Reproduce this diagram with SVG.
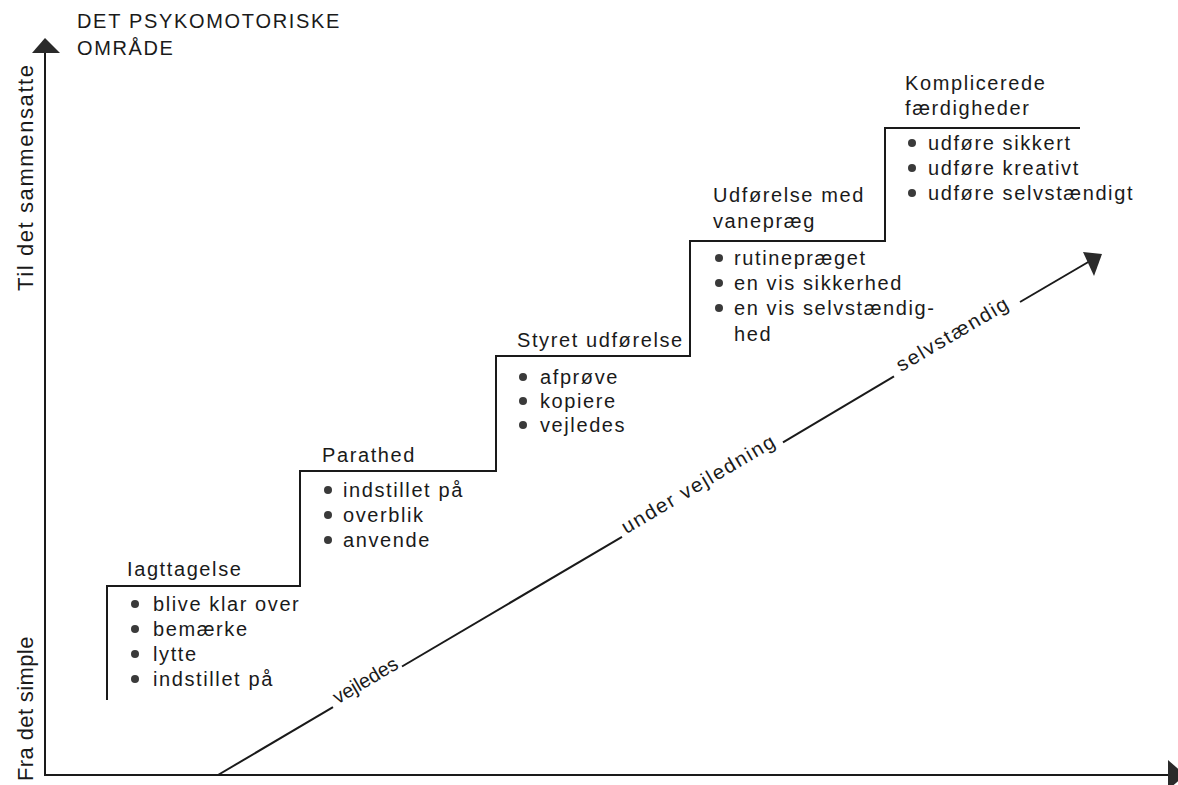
<svg xmlns="http://www.w3.org/2000/svg" width="1178" height="785" viewBox="0 0 1178 785">
<style>
text{font-family:"Liberation Sans",Arial,sans-serif;font-size:20px;fill:#1a1a1a;letter-spacing:1.6px}
text.axl{font-size:22px;letter-spacing:1.6px}
text.dl{letter-spacing:0}
.ax{stroke:#1a1a1a;stroke-width:2;fill:none}
.st{stroke:#1a1a1a;stroke-width:2;fill:none}
.dg{stroke:#1a1a1a;stroke-width:2;fill:none}
.dot{fill:#3a3a3a}
.head{fill:#2a2a2a}
</style>
<rect width="1178" height="785" fill="#ffffff"/>
<g id="axes">
<line class="ax" x1="45" y1="50" x2="45" y2="776"/>
<polygon class="head" points="45,38 32,53 60,53"/>
<line class="ax" x1="44" y1="775" x2="1170" y2="775"/>
<polygon class="head" points="1168,760 1168,790 1185,775"/>
<text x="77" y="28" textLength="264" lengthAdjust="spacing">DET PSYKOMOTORISKE</text>
<text x="77" y="55">OMRÅDE</text>
<text class="axl" transform="translate(33,291) rotate(-90)">Til det sammensatte</text>
<text class="axl" transform="translate(33,781) rotate(-90)" textLength="146" lengthAdjust="spacing">Fra det simple</text>
</g>
<g id="staircase">
<path class="st" d="M107,700 V586 H300 V471 H496 V356 H690 V241 H885 V128 H1080"/>
</g>
<g id="step1">
<text x="127" y="576">Iagttagelse</text>
<circle class="dot" cx="135" cy="604" r="4"/>
<circle class="dot" cx="135" cy="629" r="4"/>
<circle class="dot" cx="135" cy="654" r="4"/>
<circle class="dot" cx="135" cy="679" r="4"/>
<text x="153" y="611">blive klar over</text>
<text x="153" y="636">bemærke</text>
<text x="153" y="661">lytte</text>
<text x="153" y="686">indstillet på</text>
</g>
<g id="step2">
<text x="322" y="462">Parathed</text>
<circle class="dot" cx="328" cy="490" r="4"/>
<circle class="dot" cx="328" cy="515" r="4"/>
<circle class="dot" cx="328" cy="540" r="4"/>
<text x="343" y="497">indstillet på</text>
<text x="343" y="522">overblik</text>
<text x="343" y="547">anvende</text>
</g>
<g id="step3">
<text x="517" y="347">Styret udførelse</text>
<circle class="dot" cx="523" cy="377" r="4"/>
<circle class="dot" cx="523" cy="401" r="4"/>
<circle class="dot" cx="523" cy="425" r="4"/>
<text x="540" y="384">afprøve</text>
<text x="540" y="408">kopiere</text>
<text x="540" y="432">vejledes</text>
</g>
<g id="step4">
<text x="713" y="202">Udførelse med</text>
<text x="713" y="228">vanepræg</text>
<circle class="dot" cx="719" cy="258" r="4"/>
<circle class="dot" cx="719" cy="283" r="4"/>
<circle class="dot" cx="719" cy="308" r="4"/>
<text x="734" y="265">rutinepræget</text>
<text x="734" y="290">en vis sikkerhed</text>
<text x="734" y="315">en vis selvstændig-</text>
<text x="734" y="341">hed</text>
</g>
<g id="step5">
<text x="905" y="90">Komplicerede</text>
<text x="905" y="115">færdigheder</text>
<circle class="dot" cx="912" cy="143" r="4"/>
<circle class="dot" cx="912" cy="168" r="4"/>
<circle class="dot" cx="912" cy="193" r="4"/>
<text x="928" y="150">udføre sikkert</text>
<text x="928" y="175">udføre kreativt</text>
<text x="928" y="200">udføre selvstændigt</text>
</g>
<g id="connectors">
<line class="dg" x1="218" y1="775" x2="333" y2="707.2"/>
<line class="dg" x1="402" y1="666.5" x2="622" y2="536.8"/>
<line class="dg" x1="783" y1="442.3" x2="894" y2="376.3"/>
<line class="dg" x1="1020" y1="302" x2="1090" y2="261"/>
<polygon class="head" points="1102,254 1083,252 1094,276"/>
<text class="dl" transform="translate(337.7,704.4) rotate(-30.52)" textLength="72" lengthAdjust="spacingAndGlyphs">vejledes</text>
<text transform="translate(626.3,534.3) rotate(-30.52)" textLength="176" lengthAdjust="spacingAndGlyphs">under vejledning</text>
<text transform="translate(901.1,372.2) rotate(-30.52)" textLength="128" lengthAdjust="spacingAndGlyphs">selvstændig</text>
</g>
</svg>
